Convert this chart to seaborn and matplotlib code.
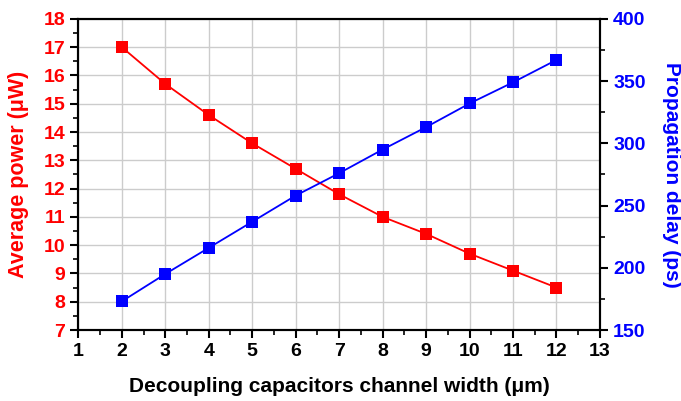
import pandas as pd
import seaborn as sns
import matplotlib.pyplot as plt
from matplotlib.ticker import MultipleLocator

width_um = [2, 3, 4, 5, 6, 7, 8, 9, 10, 11, 12]
avg_power = [17.0, 15.7, 14.6, 13.6, 12.7, 11.8, 11.0, 10.4, 9.7, 9.1, 8.5]
prop_delay = [173, 195, 216, 237, 258, 276, 295, 313, 332, 349, 367]

data = pd.DataFrame({"width": width_um, "power": avg_power, "delay": prop_delay})

sns.set_style("white")
plt.rcParams['font.family'] = ['Liberation Sans', 'DejaVu Sans']
plt.rcParams['font.weight'] = 'bold'
plt.rcParams['text.color'] = 'black'
plt.rcParams['xtick.color'] = 'black'
plt.rcParams['ytick.color'] = 'black'
plt.rcParams['axes.labelcolor'] = 'black'

fig = plt.figure(figsize=(6.81, 4.01), dpi=100)
ax = fig.add_axes([0.115, 0.177, 0.766, 0.776])
ax2 = ax.twinx()

sns.lineplot(data=data, x="width", y="power", ax=ax, color="#ff0000", marker="s",
             markersize=8, markeredgewidth=0, linewidth=1.3)
sns.lineplot(data=data, x="width", y="delay", ax=ax2, color="#0000ff", marker="s",
             markersize=8, markeredgewidth=0, linewidth=1.3)

ax.set_xlim(1, 13)
ax.set_ylim(7, 18)
ax2.set_ylim(150, 400)
ax.xaxis.set_major_locator(MultipleLocator(1))
ax.xaxis.set_minor_locator(MultipleLocator(0.5))
ax.yaxis.set_major_locator(MultipleLocator(1))
ax.yaxis.set_minor_locator(MultipleLocator(0.5))
ax2.yaxis.set_major_locator(MultipleLocator(50))
ax2.yaxis.set_minor_locator(MultipleLocator(25))

ax.grid(True, which="major", color="#cccccc", linewidth=1)
ax.set_axisbelow(True)

for a in (ax, ax2):
    for s in a.spines.values():
        s.set_linewidth(1.5)
        s.set_color("black")
ax.tick_params(which="major", direction="out", length=6, width=1.5, labelsize=14, left=True, bottom=True)
ax.tick_params(which="minor", direction="out", length=3.5, width=1.2, left=True, bottom=True)
ax.tick_params(axis="y", labelcolor="#ff0000")
ax2.tick_params(which="major", direction="out", length=6, width=1.5, labelsize=14, right=True, labelcolor="#0000ff")
ax2.tick_params(which="minor", direction="out", length=3.5, width=1.2, right=True)
for lab in ax.get_xticklabels() + ax.get_yticklabels() + ax2.get_yticklabels():
    lab.set_fontweight("bold")

ax.set_xlabel("Decoupling capacitors channel width (\u03bcm)", fontsize=15, fontweight="bold", labelpad=12)
ax.set_ylabel("Average power (\u03bcW)", fontsize=15.5, fontweight="bold", color="#ff0000")
ax.yaxis.set_label_coords(-0.094, 0.5)
ax2.set_ylabel("Propagation delay (ps)", fontsize=15, fontweight="bold", color="#0000ff",
               rotation=270, va="bottom")
ax2.yaxis.set_label_coords(1.118, 0.5)

plt.savefig("out.png", dpi=100)
